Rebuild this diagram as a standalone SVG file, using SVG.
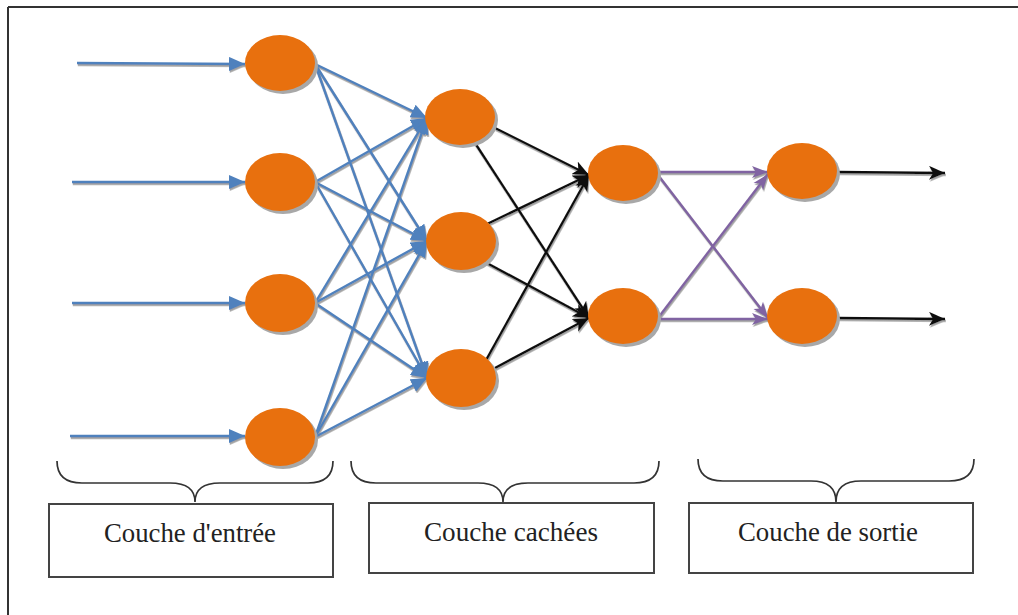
<svg xmlns="http://www.w3.org/2000/svg" width="1018" height="615" viewBox="0 0 1018 615">
<style>
.node{fill:#E8700E}
.sh{fill:#A8A8A8}
.blue{stroke:#4F81BD;stroke-width:2.4;fill:none}
.black{stroke:#111;stroke-width:2.4;fill:none}
.purple{stroke:#8064A2;stroke-width:2.4;fill:none}
.brace{stroke:#333;stroke-width:1.7;fill:none}
.box{fill:#fff;stroke:#444;stroke-width:2}
.lbl{font-family:"Liberation Serif","Times New Roman",serif;font-size:28px;fill:#222;text-anchor:middle}
</style>
<defs>
<filter id="lsh" x="-10%" y="-10%" width="120%" height="130%">
<feDropShadow dx="0.8" dy="1.8" stdDeviation="0.6" flood-color="#888" flood-opacity="0.8"/>
</filter>
<marker id="ab" markerUnits="userSpaceOnUse" markerWidth="18" markerHeight="14" refX="16" refY="7" orient="auto"><path d="M0,0 L16,7 L0,14 Z" fill="#4F81BD"/></marker>
<marker id="ak" markerUnits="userSpaceOnUse" markerWidth="18" markerHeight="14" refX="16" refY="7" orient="auto"><path d="M0,0 L16,7 L0,14 L4,7 Z" fill="#111"/></marker>
<marker id="ap" markerUnits="userSpaceOnUse" markerWidth="18" markerHeight="14" refX="16" refY="7" orient="auto"><path d="M0,1 L16,7 L0,13 L4,7 Z" fill="#8064A2"/></marker>
</defs>
<rect width="1018" height="615" fill="#fff"/>
<g id="frame" stroke="#333" stroke-width="2" fill="none">
<line x1="8" y1="7" x2="1018" y2="7"/>
<line x1="8" y1="7" x2="8" y2="615"/>
</g>
<g id="connectors" filter="url(#lsh)">
<line class="blue" x1="77" y1="63" x2="245" y2="64" marker-end="url(#ab)"/>
<line class="blue" x1="72" y1="182" x2="245" y2="182" marker-end="url(#ab)"/>
<line class="blue" x1="72" y1="303" x2="245" y2="303" marker-end="url(#ab)"/>
<line class="blue" x1="70" y1="436" x2="245" y2="436" marker-end="url(#ab)"/>
<line class="blue" x1="315" y1="64" x2="427" y2="118" marker-end="url(#ab)"/>
<line class="blue" x1="315" y1="64" x2="427" y2="241" marker-end="url(#ab)"/>
<line class="blue" x1="315" y1="64" x2="427" y2="378" marker-end="url(#ab)"/>
<line class="blue" x1="315" y1="182" x2="427" y2="118" marker-end="url(#ab)"/>
<line class="blue" x1="315" y1="182" x2="427" y2="241" marker-end="url(#ab)"/>
<line class="blue" x1="315" y1="182" x2="427" y2="378" marker-end="url(#ab)"/>
<line class="blue" x1="315" y1="303" x2="427" y2="118" marker-end="url(#ab)"/>
<line class="blue" x1="315" y1="303" x2="427" y2="241" marker-end="url(#ab)"/>
<line class="blue" x1="315" y1="303" x2="427" y2="378" marker-end="url(#ab)"/>
<line class="blue" x1="315" y1="437" x2="427" y2="118" marker-end="url(#ab)"/>
<line class="blue" x1="315" y1="437" x2="427" y2="241" marker-end="url(#ab)"/>
<line class="blue" x1="315" y1="437" x2="427" y2="378" marker-end="url(#ab)"/>
<line class="black" x1="495" y1="128" x2="589" y2="175" marker-end="url(#ak)"/>
<line class="black" x1="475" y1="143" x2="589" y2="318" marker-end="url(#ak)"/>
<line class="black" x1="485" y1="225" x2="589" y2="175" marker-end="url(#ak)"/>
<line class="black" x1="485" y1="262" x2="589" y2="318" marker-end="url(#ak)"/>
<line class="black" x1="485" y1="362" x2="589" y2="175" marker-end="url(#ak)"/>
<line class="black" x1="495" y1="368" x2="589" y2="318" marker-end="url(#ak)"/>
<line class="purple" x1="658" y1="172" x2="768" y2="172" marker-end="url(#ap)"/>
<line class="purple" x1="658" y1="175" x2="768" y2="318" marker-end="url(#ap)"/>
<line class="purple" x1="658" y1="318" x2="768" y2="174" marker-end="url(#ap)"/>
<line class="purple" x1="658" y1="319" x2="768" y2="319" marker-end="url(#ap)"/>
<line class="black" x1="837" y1="172" x2="945" y2="173" marker-end="url(#ak)"/>
<line class="black" x1="837" y1="318" x2="945" y2="319" marker-end="url(#ak)"/>
</g>
<g id="in1"><ellipse class="sh" cx="283" cy="66" rx="35" ry="28"/><ellipse class="node" cx="280" cy="63" rx="35" ry="28"/></g>
<g id="in2"><ellipse class="sh" cx="283" cy="185" rx="35" ry="29"/><ellipse class="node" cx="280" cy="182" rx="35" ry="29"/></g>
<g id="in3"><ellipse class="sh" cx="283" cy="306" rx="35" ry="29"/><ellipse class="node" cx="280" cy="303" rx="35" ry="29"/></g>
<g id="in4"><ellipse class="sh" cx="283" cy="440" rx="35" ry="29"/><ellipse class="node" cx="280" cy="437" rx="35" ry="29"/></g>
<g id="h1"><ellipse class="sh" cx="463" cy="120" rx="35" ry="28"/><ellipse class="node" cx="460" cy="117" rx="35" ry="28"/></g>
<g id="h2"><ellipse class="sh" cx="464" cy="244" rx="35" ry="29"/><ellipse class="node" cx="461" cy="241" rx="35" ry="29"/></g>
<g id="h3"><ellipse class="sh" cx="464" cy="381" rx="35" ry="29"/><ellipse class="node" cx="461" cy="378" rx="35" ry="29"/></g>
<g id="h4"><ellipse class="sh" cx="626" cy="176" rx="35" ry="28"/><ellipse class="node" cx="623" cy="173" rx="35" ry="28"/></g>
<g id="h5"><ellipse class="sh" cx="626" cy="319" rx="35" ry="28"/><ellipse class="node" cx="623" cy="316" rx="35" ry="28"/></g>
<g id="out1"><ellipse class="sh" cx="805" cy="174" rx="35" ry="28"/><ellipse class="node" cx="802" cy="171" rx="35" ry="28"/></g>
<g id="out2"><ellipse class="sh" cx="805" cy="319" rx="35" ry="28"/><ellipse class="node" cx="802" cy="316" rx="35" ry="28"/></g>
<g id="brace1"><path class="brace" d="M57,461 Q57,483 82,483 L170,483 Q195,483 195,502 Q195,483 220,483 L308,483 Q333,483 333,461"/></g>
<g id="brace2"><path class="brace" d="M351,461 Q351,483 376,483 L478,483 Q503,483 503,502 Q503,483 528,483 L634,483 Q659,483 659,461"/></g>
<g id="brace3"><path class="brace" d="M698,459 Q698,481 723,481 L811,481 Q836,481 836,502 Q836,481 861,481 L949,481 Q974,481 974,459"/></g>
<g id="box1"><rect class="box" x="49" y="504" width="284" height="73"/><text class="lbl" x="190" y="542" textLength="172" lengthAdjust="spacingAndGlyphs">Couche d'entrée</text></g>
<g id="box2"><rect class="box" x="369" y="503" width="285" height="70"/><text class="lbl" x="511" y="541" textLength="174" lengthAdjust="spacingAndGlyphs">Couche cachées</text></g>
<g id="box3"><rect class="box" x="689" y="503" width="284" height="70"/><text class="lbl" x="828" y="541" textLength="180" lengthAdjust="spacingAndGlyphs">Couche de sortie</text></g>
</svg>
